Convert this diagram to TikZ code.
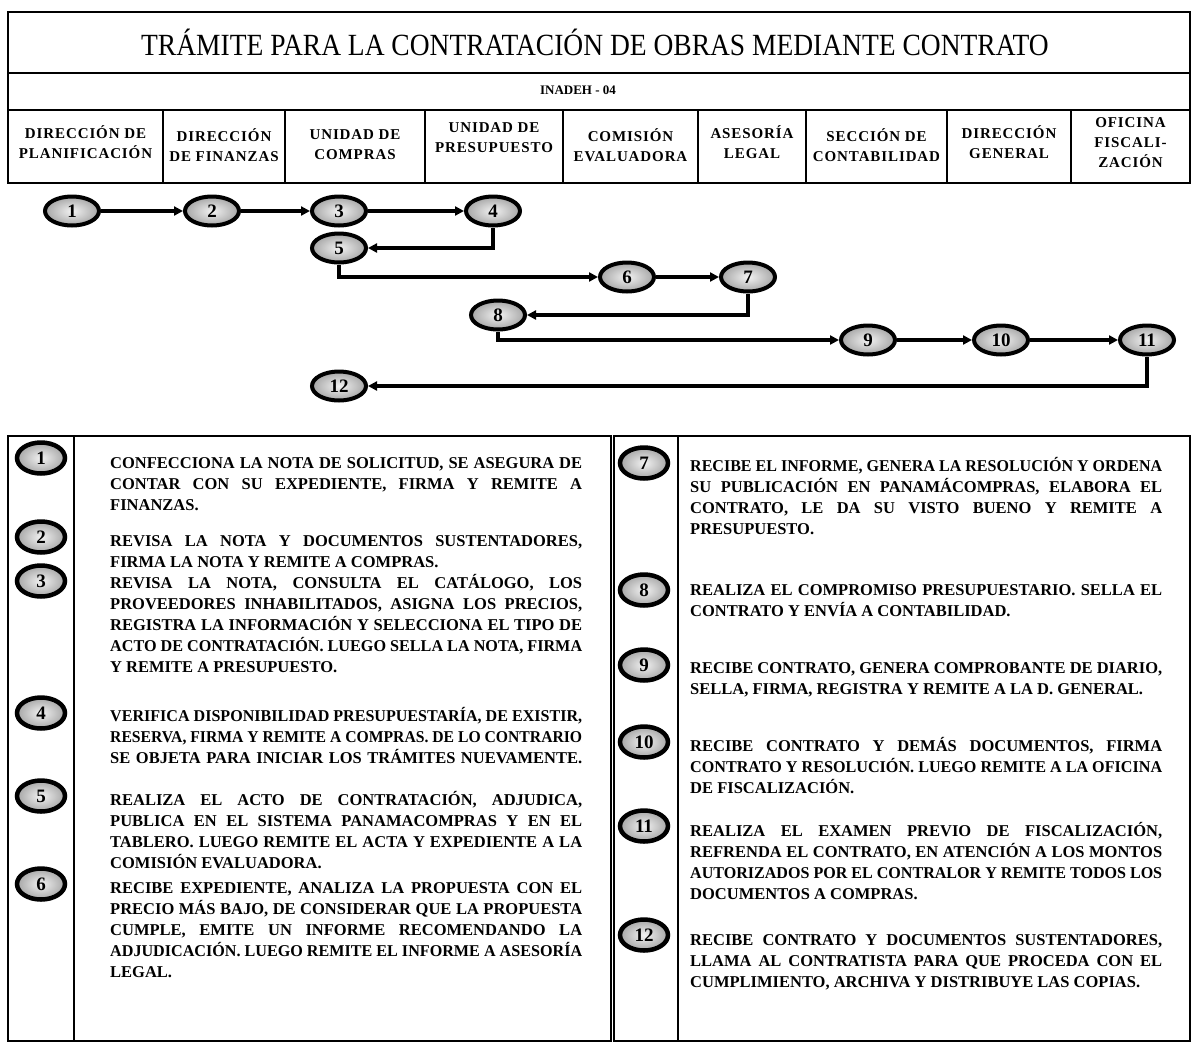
\documentclass[tikz,border=0pt]{standalone}
\usepackage{fontspec}
\setmainfont{Liberation Serif}
\usetikzlibrary{shapes.geometric,arrows.meta}
\newlength\lw
\setlength\lw{472pt}
\newcommand\jl[1]{\setbox0\hbox{#1}\ifdim\wd0>\lw\resizebox{\lw}{\height}{#1}\else\makebox[\lw][s]{#1}\fi}
\newcommand\lastl[1]{\setbox0\hbox{#1}\ifdim\wd0>\lw\resizebox{\lw}{\height}{#1}\else\makebox[\lw][l]{#1}\fi}
\tikzset{
  flow/.style={ellipse, draw=black, line width=4pt, inner color=gray!10, outer color=gray!70,
    minimum width=54pt, minimum height=29pt, inner sep=0pt, font=\bfseries\fontsize{19}{19}\selectfont},
  mini/.style={flow, line width=4.5pt, minimum width=48pt, minimum height=31pt, font=\bfseries\fontsize{19}{19}\selectfont},
  conn/.style={line width=3.2pt, -{Triangle[length=9pt,width=9pt]}},
  desc/.style={anchor=base west, inner sep=0pt, font=\bfseries\fontsize{16.5}{21}\selectfont},
  hdr/.style={align=center, inner sep=0pt, font=\bfseries\fontsize{15}{20}\selectfont\addfontfeature{LetterSpace=6}},
  frame/.style={line width=1.6pt}
}
\begin{document}
\begin{tikzpicture}[x=1pt,y=-1pt]
\useasboundingbox (0,0) rectangle (1192,1045);
% ---------- header table ----------
\draw[frame] (8,12) rectangle (1190,183);
\draw[frame] (8,73) -- (1190,73);
\draw[frame] (8,110) -- (1190,110);
\foreach \x in {163,285,425,563,698,806,947,1071} \draw[frame] (\x,110) -- (\x,183);
\node[font=\fontsize{27.5}{27.5}\selectfont, inner sep=0pt, yscale=1.12] (title) at (595,42) {TRÁMITE PARA LA CONTRATACIÓN DE OBRAS MEDIANTE CONTRATO};
\node[font=\bfseries\fontsize{13}{13}\selectfont, inner sep=0pt] (code) at (578,90) {INADEH - 04};
\node[hdr] (h1) at (85.5,142) {DIRECCIÓN DE\\PLANIFICACIÓN};
\node[hdr] (h2) at (224,145) {DIRECCIÓN\\DE FINANZAS};
\node[hdr] (h3) at (355,145) {UNIDAD DE\\COMPRAS};
\node[hdr] (h4) at (494,138) {UNIDAD DE\\PRESUPUESTO};
\node[hdr] (h5) at (630.5,145) {COMISIÓN\\EVALUADORA};
\node[hdr] (h6) at (752,142) {ASESORÍA\\LEGAL};
\node[hdr] (h7) at (876.5,145) {SECCIÓN DE\\CONTABILIDAD};
\node[hdr] (h8) at (1009,142) {DIRECCIÓN\\GENERAL};
\node[hdr] (h9) at (1130.5,143) {OFICINA\\FISCALI-\\ZACIÓN};
% ---------- flow ----------
\node[flow] (n1) at (72,211) {1};
\node[flow] (n2) at (212,211) {2};
\node[flow] (n3) at (339,211) {3};
\node[flow] (n4) at (493,211) {4};
\node[flow] (n5) at (339,248) {5};
\node[flow] (n6) at (627,277) {6};
\node[flow] (n7) at (748,277) {7};
\node[flow] (n8) at (498,315) {8};
\node[flow] (n9) at (868,340) {9};
\node[flow] (n10) at (1001,340) {10};
\node[flow] (n11) at (1147,340) {11};
\node[flow] (n12) at (339,386) {12};
\draw[conn] (n1) -- (n2);
\draw[conn] (n2) -- (n3);
\draw[conn] (n3) -- (n4);
\draw[conn] (n4.south) |- (n5.east);
\draw[conn] (n5.south) |- (n6.west);
\draw[conn] (n6) -- (n7);
\draw[conn] (n7.south) |- (n8.east);
\draw[conn] (n8.south) |- (n9.west);
\draw[conn] (n9) -- (n10);
\draw[conn] (n10) -- (n11);
\draw[conn] (n11.south) |- (n12.east);
% ---------- description boxes ----------
\draw[frame] (8,436) rectangle (611,1041);
\draw[frame] (74,436) -- (74,1041);
\draw[frame] (614,436) rectangle (1190,1041);
\draw[frame] (678,436) -- (678,1041);
% left
\node[mini] (m1) at (41,458) {1};
\node[desc] (d1) at (110,468) {\parbox[t]{\lw}{\jl{CONFECCIONA LA NOTA DE SOLICITUD, SE ASEGURA DE}\\\jl{CONTAR CON SU EXPEDIENTE, FIRMA Y REMITE A}\\\lastl{FINANZAS.}}};
\node[mini] (m2) at (41,537) {2};
\node[desc] (d2) at (110,546) {\parbox[t]{\lw}{\jl{REVISA LA NOTA Y DOCUMENTOS SUSTENTADORES,}\\\lastl{FIRMA LA NOTA Y REMITE A COMPRAS.}}};
\node[mini] (m3) at (41,581) {3};
\node[desc] (d3) at (110,588) {\parbox[t]{\lw}{\jl{REVISA LA NOTA, CONSULTA EL CATÁLOGO, LOS}\\\jl{PROVEEDORES INHABILITADOS, ASIGNA LOS PRECIOS,}\\\jl{REGISTRA LA INFORMACIÓN Y SELECCIONA EL TIPO DE}\\\jl{ACTO DE CONTRATACIÓN. LUEGO SELLA LA NOTA, FIRMA}\\\lastl{Y REMITE A PRESUPUESTO.}}};
\node[mini] (m4) at (41,713) {4};
\node[desc] (d4) at (110,721) {\parbox[t]{\lw}{\jl{VERIFICA DISPONIBILIDAD PRESUPUESTARÍA, DE EXISTIR,}\\\jl{RESERVA, FIRMA Y REMITE A COMPRAS. DE LO CONTRARIO}\\\jl{SE OBJETA PARA INICIAR LOS TRÁMITES NUEVAMENTE.}}};
\node[mini] (m5) at (41,796) {5};
\node[desc] (d5) at (110,805) {\parbox[t]{\lw}{\jl{REALIZA EL ACTO DE CONTRATACIÓN, ADJUDICA,}\\\jl{PUBLICA EN EL SISTEMA PANAMACOMPRAS Y EN EL}\\\jl{TABLERO. LUEGO REMITE EL ACTA Y EXPEDIENTE A LA}\\\lastl{COMISIÓN EVALUADORA.}}};
\node[mini] (m6) at (41,884) {6};
\node[desc] (d6) at (110,893) {\parbox[t]{\lw}{\jl{RECIBE EXPEDIENTE, ANALIZA LA PROPUESTA CON EL}\\\jl{PRECIO MÁS BAJO, DE CONSIDERAR QUE LA PROPUESTA}\\\jl{CUMPLE, EMITE UN INFORME RECOMENDANDO LA}\\\jl{ADJUDICACIÓN. LUEGO REMITE EL INFORME A ASESORÍA}\\\lastl{LEGAL.}}};
% right
\node[mini] (m7) at (644,463) {7};
\node[desc] (d7) at (690,471) {\parbox[t]{\lw}{\jl{RECIBE EL INFORME, GENERA LA RESOLUCIÓN Y ORDENA}\\\jl{SU PUBLICACIÓN EN PANAMÁCOMPRAS, ELABORA EL}\\\jl{CONTRATO, LE DA SU VISTO BUENO Y REMITE A}\\\lastl{PRESUPUESTO.}}};
\node[mini] (m8) at (644,590) {8};
\node[desc] (d8) at (690,595) {\parbox[t]{\lw}{\jl{REALIZA EL COMPROMISO PRESUPUESTARIO. SELLA EL}\\\lastl{CONTRATO Y ENVÍA A CONTABILIDAD.}}};
\node[mini] (m9) at (644,665) {9};
\node[desc] (d9) at (690,673) {\parbox[t]{\lw}{\jl{RECIBE CONTRATO, GENERA COMPROBANTE DE DIARIO,}\\\lastl{SELLA, FIRMA, REGISTRA Y REMITE A LA D. GENERAL.}}};
\node[mini] (m10) at (644,742) {10};
\node[desc] (d10) at (690,751) {\parbox[t]{\lw}{\jl{RECIBE CONTRATO Y DEMÁS DOCUMENTOS, FIRMA}\\\jl{CONTRATO Y RESOLUCIÓN. LUEGO REMITE A LA OFICINA}\\\lastl{DE FISCALIZACIÓN.}}};
\node[mini] (m11) at (644,826) {11};
\node[desc] (d11) at (690,836) {\parbox[t]{\lw}{\jl{REALIZA EL EXAMEN PREVIO DE FISCALIZACIÓN,}\\\jl{REFRENDA EL CONTRATO, EN ATENCIÓN A LOS MONTOS}\\\jl{AUTORIZADOS POR EL CONTRALOR Y REMITE TODOS LOS}\\\lastl{DOCUMENTOS A COMPRAS.}}};
\node[mini] (m12) at (644,935) {12};
\node[desc] (d12) at (690,945) {\parbox[t]{\lw}{\jl{RECIBE CONTRATO Y DOCUMENTOS SUSTENTADORES,}\\\jl{LLAMA AL CONTRATISTA PARA QUE PROCEDA CON EL}\\\lastl{CUMPLIMIENTO, ARCHIVA Y DISTRIBUYE LAS COPIAS.}}};
\end{tikzpicture}
\end{document}
